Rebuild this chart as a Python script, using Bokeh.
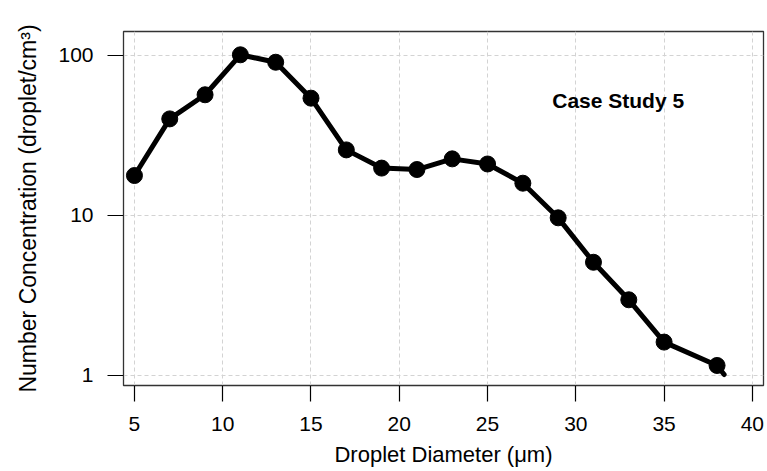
from bokeh.plotting import figure
from bokeh.models import Range1d, FixedTicker, NumeralTickFormatter, Label
from bokeh.embed import file_html
from bokeh.resources import INLINE

# Data
diameter = [5, 7, 9, 11, 13, 15, 17, 19, 21, 23, 25, 27, 29, 31, 33, 35, 38]
concentration = [17.7, 40.0, 56.6, 100.6, 90.4, 53.9, 25.6, 19.7, 19.3, 22.5,
                 20.9, 15.85, 9.63, 5.08, 2.96, 1.61, 1.15]
# the drawn line runs a little past the last marker
tail_diameter = [38.4]
tail_concentration = [1.01]

x_ticks = [5, 10, 15, 20, 25, 30, 35, 40]
y_ticks = [1, 10, 100]

FONT = "Liberation Sans"

p = figure(width=767, height=471, y_axis_type="log",
           x_range=Range1d(4.38, 40.63), y_range=Range1d(0.862, 140.7),
           output_backend="svg", toolbar_location=None,
           min_border_left=123, min_border_right=4,
           min_border_top=31, min_border_bottom=86)

p.background_fill_color = "white"
p.border_fill_color = "white"
p.outline_line_color = "#333333"
p.outline_line_width = 1.3

# grid
for g in (p.xgrid, p.ygrid):
    g.grid_line_color = "#d3d3d3"
    g.grid_line_dash = "4 3"
    g.grid_line_width = 1
p.xgrid.ticker = FixedTicker(ticks=x_ticks)
p.ygrid.ticker = FixedTicker(ticks=y_ticks)

# axes
p.xaxis.ticker = FixedTicker(ticks=x_ticks)
p.yaxis.ticker = FixedTicker(ticks=y_ticks)
p.yaxis.formatter = NumeralTickFormatter(format="0")
for ax in (p.xaxis, p.yaxis):
    ax.axis_line_color = None
    ax.major_tick_line_color = "black"
    ax.major_tick_line_width = 1.2
    ax.major_tick_out = 16
    ax.major_tick_in = 0
    ax.minor_tick_line_color = None
    ax.major_label_text_font = FONT
    ax.major_label_text_font_size = "21px"
    ax.major_label_text_color = "black"
    ax.axis_label_text_font = FONT
    ax.axis_label_text_font_style = "normal"
    ax.axis_label_text_color = "black"

p.xaxis.axis_label_text_font_size = "22px"
p.yaxis.axis_label_text_font_size = "23px"
p.xaxis.major_label_standoff = 15
p.yaxis.major_label_standoff = 14
p.yaxis.major_label_orientation = "horizontal"
p.xaxis.axis_label = "Droplet Diameter (μm)"
p.yaxis.axis_label = "Number Concentration (droplet/cm³)"
p.xaxis.axis_label_standoff = 8
p.yaxis.axis_label_standoff = 14

# data
p.line(diameter + tail_diameter, concentration + tail_concentration,
       line_color="black", line_width=5, line_join="round", line_cap="round")
p.scatter(diameter, concentration, size=16, color="black")

p.add_layout(Label(x=32.4, y=52.0, text="Case Study 5",
                   text_font=FONT, text_font_size="21px",
                   text_font_style="bold", text_align="center",
                   text_baseline="middle", text_color="black"))

open("out.html", "w").write(file_html(p, INLINE))
